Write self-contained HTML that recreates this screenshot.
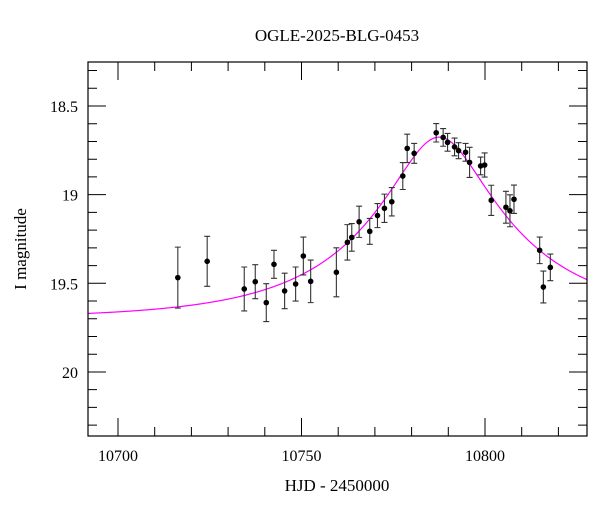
<!DOCTYPE html>
<html><head><meta charset="utf-8"><style>
body{margin:0;background:#fff;}
svg{display:block;font-family:"Liberation Serif","DejaVu Serif",serif;}
</style></head><body>
<svg id="chart" width="600" height="512" viewBox="0 0 600 512" xmlns="http://www.w3.org/2000/svg">
<text x="337" y="41" text-anchor="middle" font-size="17">OGLE-2025-BLG-0453</text>
<text x="337" y="491" text-anchor="middle" font-size="17">HJD - 2450000</text>
<text transform="translate(26,249) rotate(-90)" text-anchor="middle" font-size="17">I magnitude</text>
<g id="plot"></g>
</svg>
<script>
const hjd=[10716.3,10724.3,10734.4,10737.4,10740.4,10742.5,10745.4,10748.4,10750.5,10752.5,10759.5,10762.5,10763.7,10765.7,10768.6,10770.7,10772.6,10774.6,10777.6,10778.8,10780.7,10786.7,10788.6,10789.8,10791.7,10792.8,10794.7,10795.8,10798.8,10799.9,10801.7,10805.7,10806.8,10807.9,10814.9,10815.9,10817.8];
const mag=[19.468,19.376,19.532,19.491,19.609,19.393,19.543,19.504,19.346,19.489,19.438,19.269,19.241,19.153,19.207,19.118,19.077,19.040,18.895,18.739,18.767,18.651,18.677,18.705,18.731,18.752,18.761,18.818,18.838,18.833,19.032,19.071,19.091,19.026,19.314,19.521,19.410];
const err=[0.172,0.141,0.124,0.096,0.107,0.079,0.100,0.096,0.107,0.120,0.138,0.100,0.078,0.088,0.073,0.068,0.080,0.080,0.076,0.080,0.056,0.052,0.050,0.050,0.050,0.045,0.050,0.085,0.050,0.068,0.085,0.090,0.090,0.080,0.075,0.090,0.075];
const model={t0:10787.5,u0:0.285,tE:44.2,base:19.70,fs:0.6};
const xTicks=[10700,10750,10800];
const yTicks=[18.5,19,19.5,20];
const L=88,R=587,T=62,B=436;
const x=v=>118+(v-10700)*183.5/50;
const y=v=>106+(v-18.5)*177.3;
const g=document.getElementById('plot');
const NS='http://www.w3.org/2000/svg';
function mk(t,a){const e=document.createElementNS(NS,t);for(const k in a)e.setAttribute(k,a[k]);g.appendChild(e);return e;}
let d='';
for(let px=L;px<=R;px+=1){const t=10700+(px-118)*50/183.5;const u=Math.sqrt(model.u0*model.u0+((t-model.t0)/model.tE)**2);const A=(u*u+2)/(u*Math.sqrt(u*u+4));const m=model.base-2.5*Math.log10(model.fs*A+1-model.fs);d+=(px===L?'M':'L')+px+','+y(m).toFixed(2);}
const c=mk('path',{d:d,fill:'none',stroke:'#ff00ff','stroke-width':1.2});


for(let i=0;i<hjd.length;i++){
const px=x(hjd[i]),y1=y(mag[i]-err[i]),y2=y(mag[i]+err[i]);
const e=mk('path',{d:`M${px},${y1}V${y2}M${px-3},${y1}H${px+3}M${px-3},${y2}H${px+3}`,stroke:'#333','stroke-width':1.1,fill:'none'});


const p=mk('circle',{cx:px,cy:y(mag[i]),r:2.8,fill:'#000'});


}
const f=mk('rect',{x:L,y:T,width:R-L,height:B-T,fill:'none',stroke:'#000','stroke-width':1.2});


let td='';
for(let v=10700;v<=10820;v+=10){const px=x(v);if(px<L||px>R)continue;const len=(v%50===0)?18:9;td+=`M${px},${B}v${-len}M${px},${T}v${len}`;}
for(let k=183;k<=203;k++){const v=k/10;const py=y(v);if(py<T||py>B)continue;const len=(k%5===0)?18:9;td+=`M${L},${py}h${len}M${R},${py}h${-len}`;}
const tk=mk('path',{d:td,stroke:'#000','stroke-width':1,fill:'none'});


xTicks.forEach(v=>{const t=mk('text',{x:x(v),y:B+25,'text-anchor':'middle','font-size':16});t.textContent=v;

});
yTicks.forEach(v=>{const t=mk('text',{x:L-10,y:y(v)+6,'text-anchor':'end','font-size':16});t.textContent=v;

});
</script>
</body></html>
